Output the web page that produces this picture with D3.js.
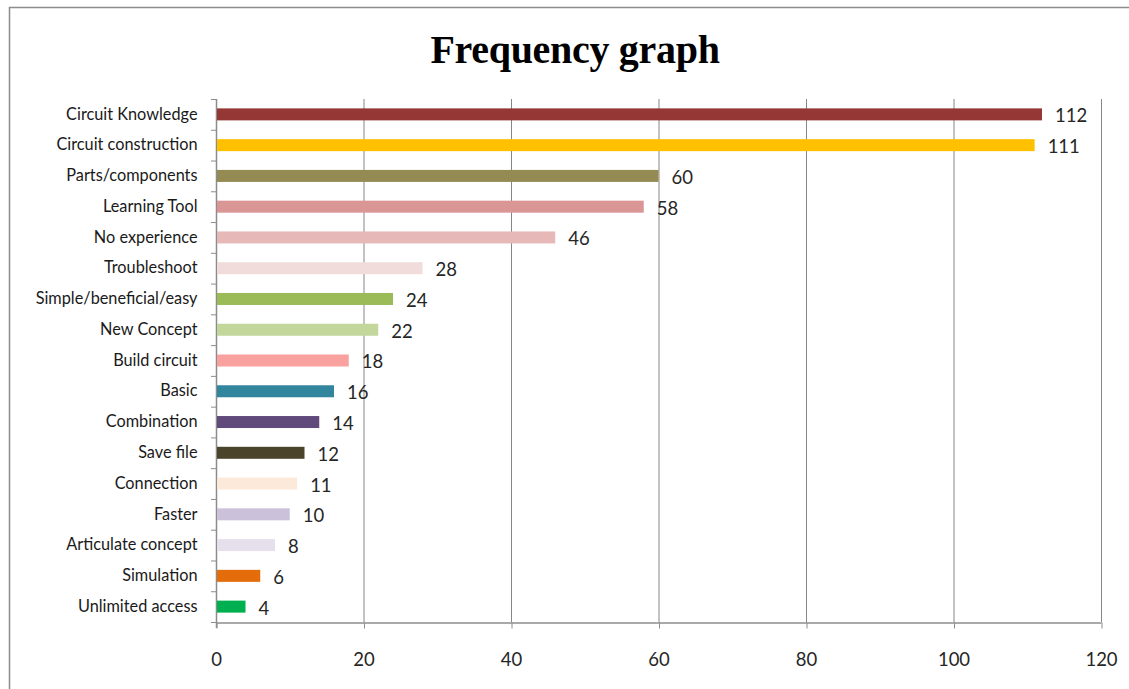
<!DOCTYPE html>
<html>
<head>
<meta charset="utf-8">
<script src="https://cdn.jsdelivr.net/npm/d3@7"></script>
<style>
  html, body { margin: 0; padding: 0; background: #fff; }
  svg { display: block; }
</style>
</head>
<body>
<svg id="chart" width="1129" height="689"></svg>
<script>
// Response categories, top to bottom
const categories = [
  "Circuit Knowledge", "Circuit construction", "Parts/components", "Learning Tool",
  "No experience", "Troubleshoot", "Simple/beneficial/easy", "New Concept",
  "Build circuit", "Basic", "Combination", "Save file", "Connection",
  "Faster", "Articulate concept", "Simulation", "Unlimited access"
];
// Frequency of each response
const frequencies = [112, 111, 60, 58, 46, 28, 24, 22, 18, 16, 14, 12, 11, 10, 8, 6, 4];
// Bar fill per category
const barColors = [
  "#953735", "#FFC000", "#948A54", "#D99694", "#E6B9B8", "#F2DCDB", "#9BBB59",
  "#C3D69B", "#F9A19E", "#31859C", "#604A7B", "#4A452A", "#FDE9D9", "#CCC1DA",
  "#E6E0EC", "#E46C0A", "#00B050"
];
const xTicks = [0, 20, 40, 60, 80, 100, 120];

const svg = d3.select("#chart");
const plot = { left: 216, right: 1101, top: 99, bottom: 622 };

// Outer chart frame
svg.append("rect")
  .attr("x", 9.5).attr("y", 7.5)
  .attr("width", 1130).attr("height", 700)
  .attr("fill", "none").attr("stroke", "#8c8c8c").attr("stroke-width", 1.5);

svg.append("text")
  .attr("x", 575).attr("y", 63)
  .attr("text-anchor", "middle")
  .attr("font-family", "'Liberation Serif', 'Times New Roman', serif")
  .attr("font-weight", "bold")
  .attr("font-size", 40)
  .attr("letter-spacing", -0.3)
  .attr("fill", "#000")
  .text("Frequency graph");

const x = d3.scaleLinear().domain([0, 120]).range([plot.left, plot.right]);
const y = d3.scaleBand().domain(categories).range([plot.top, plot.bottom]).paddingInner(0.61).paddingOuter(0.305);
const yBand = d3.scaleBand().domain(categories).range([plot.top, plot.bottom]);

// Vertical gridlines
svg.append("g")
  .selectAll("line")
  .data(xTicks.filter(d => d > 0))
  .join("line")
  .attr("x1", d => x(d) + 0.5).attr("x2", d => x(d) + 0.5)
  .attr("y1", plot.top).attr("y2", plot.bottom)
  .attr("stroke", "#868686").attr("stroke-width", 1);

// Bottom axis
const xAxis = svg.append("g")
  .attr("transform", `translate(0,${plot.bottom + 0.5})`)
  .call(d3.axisBottom(x).tickValues(xTicks).tickSize(6).tickPadding(24).tickSizeOuter(0));
xAxis.select(".domain").attr("stroke", "#8c8c8c").attr("stroke-width", 1.5);
xAxis.selectAll(".tick line").attr("stroke", "#8c8c8c").attr("transform", "translate(0.5,0)");
xAxis.selectAll(".tick text")
  .attr("font-family", "Lato, 'Open Sans', sans-serif")
  .attr("font-size", 18.5).attr("fill", "#262626");

// Left axis with category ticks between bands
const yAxis = svg.append("g")
  .attr("transform", `translate(${plot.left + 0.5},0)`)
  .call(d3.axisLeft(yBand).tickSize(0).tickPadding(19).tickSizeOuter(0));
yAxis.select(".domain").attr("stroke", "#8c8c8c").attr("stroke-width", 1.5)
  .attr("d", `M0,${plot.top}V${plot.bottom + 6}`);
yAxis.selectAll(".tick text")
  .attr("font-family", "Lato, 'Open Sans', sans-serif")
  .attr("font-size", 16.3).attr("fill", "#1a1a1a");
svg.append("g")
  .selectAll("line")
  .data(d3.range(categories.length + 1))
  .join("line")
  .attr("x1", plot.left - 5).attr("x2", plot.left)
  .attr("y1", i => plot.top + i * yBand.step() + 0.5)
  .attr("y2", i => plot.top + i * yBand.step() + 0.5)
  .attr("stroke", "#8c8c8c").attr("stroke-width", 1);

// Bars
svg.append("g")
  .selectAll("rect")
  .data(categories)
  .join("rect")
  .attr("x", x(0) + 1)
  .attr("y", d => y(d))
  .attr("width", (d, i) => x(frequencies[i]) - x(0) - 1)
  .attr("height", y.bandwidth())
  .attr("fill", (d, i) => barColors[i]);

// Value labels
svg.append("g")
  .selectAll("text")
  .data(categories)
  .join("text")
  .attr("x", (d, i) => x(frequencies[i]) + 13)
  .attr("y", d => y(d) + y.bandwidth() / 2 + 1.5)
  .attr("dy", "0.35em")
  .attr("font-family", "Lato, 'Open Sans', sans-serif")
  .attr("font-size", 18.5).attr("fill", "#262626")
  .text((d, i) => frequencies[i]);
</script>
</body>
</html>
